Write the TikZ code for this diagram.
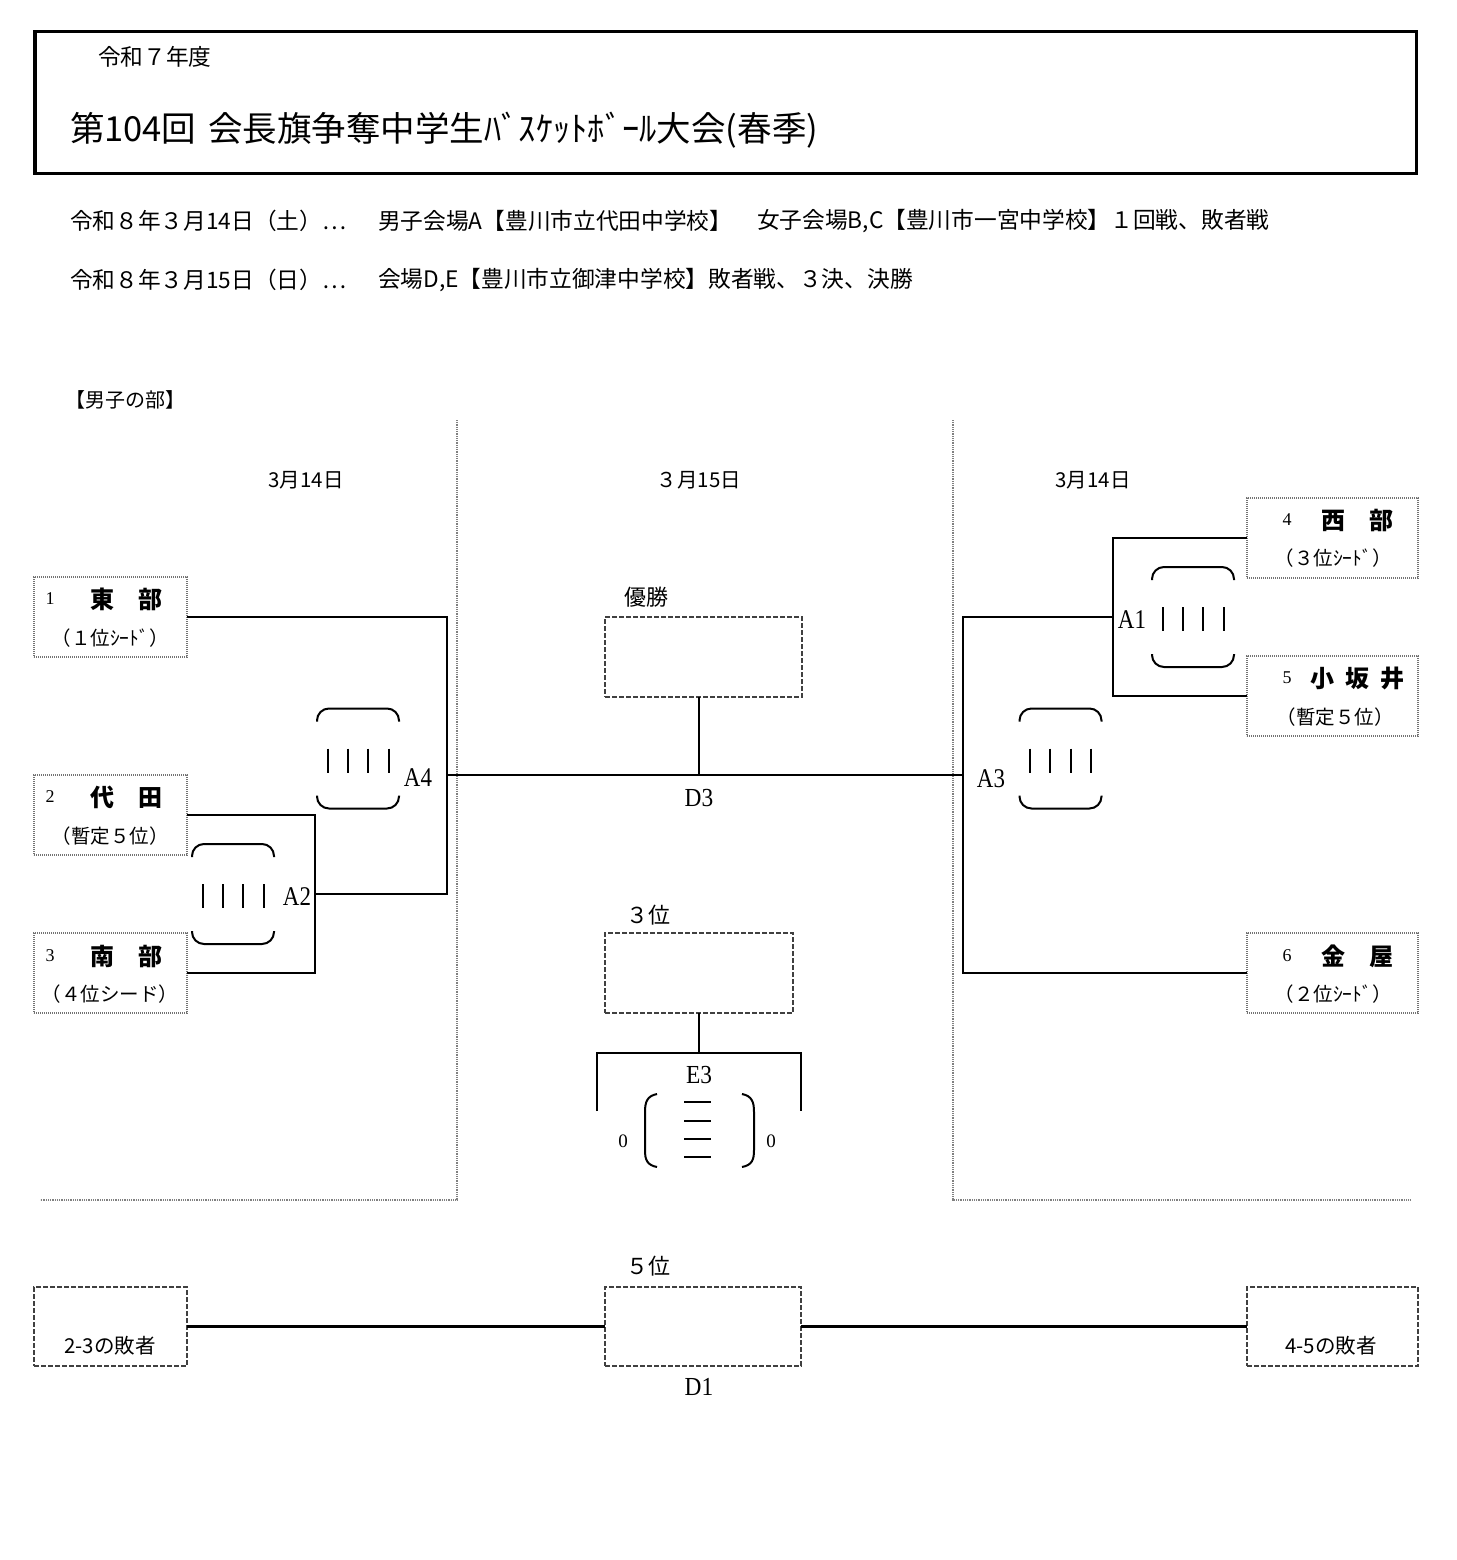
\documentclass[tikz,border=0pt]{standalone}
\usepackage{fontspec}
\setmainfont{Noto Sans CJK JP}
\newfontfamily\latf{Liberation Serif}
\begin{document}
\begin{tikzpicture}[x=1pt,y=-1pt,
  every node/.style={inner sep=0pt, outer sep=0pt},
  conn/.style={line width=2pt},
  bline/.style={line width=2pt},
  teambox/.style={draw=black!55, dash pattern=on 1.2pt off 0.8pt, line width=1.8pt, minimum height=80pt},
  mbox/.style={draw=black!75, dash pattern=on 5pt off 2pt, line width=1.8pt},
  sep/.style={draw=black!50, dash pattern=on 1pt off 0.8pt, line width=1.4pt},
  jt/.style={font=\fontsize{22.7}{27}\selectfont},
  jm/.style={font=\fontsize{19.5}{23}\selectfont},
  jd/.style={font=\fontsize{20.5}{24}\selectfont},
  tname/.style={font=\fontsize{24}{28}\selectfont\bfseries},
  num/.style={font=\latf\fontsize{18}{21}\selectfont},
  alab/.style={font=\latf\fontsize{27}{30}\selectfont, xscale=0.85},
  dlab/.style={font=\latf\fontsize{26}{29}\selectfont, xscale=0.9},
  tally/.pic={
    \draw[bline, rounded corners=12pt] (-41,-37) -- (-41,-50) -- (41,-50) -- (41,-37);
    \draw[bline, rounded corners=12pt] (-41,37) -- (-41,50) -- (41,50) -- (41,37);
    \foreach \u in {-30.5,-10.2,10.2,30.5} \draw[line width=2pt] (\u,-10) -- (\u,14);
  }
]
\useasboundingbox (0,0) rectangle (1456,1560);

% title frame
\node[draw, line width=3.5pt, minimum width=1381.5pt, minimum height=142pt] (frame) at (725.75,102.5) {};
\node[jt, anchor=west] (year) at (98,57) {令和７年度};
\node[font=\fontsize{34.5}{40}\selectfont, anchor=west] (title) at (70,130) {第104回\hspace{12pt}会長旗争奪中学生ﾊﾞｽｹｯﾄﾎﾞｰﾙ大会(春季)};

% schedule lines
\node[jt, anchor=west] (l1a) at (70,221) {令和８年３月14日（土）…};
\node[jt, anchor=west] (l1b) at (378,221) {男子会場A【豊川市立代田中学校】};
\node[jt, anchor=west] (l1c) at (757,221) {女子会場B,C【豊川市一宮中学校】１回戦、敗者戦};
\node[jt, anchor=west] (l2a) at (70,280) {令和８年３月15日（日）…};
\node[jt, anchor=west] (l2b) at (378,280) {会場D,E【豊川市立御津中学校】敗者戦、３決、決勝};

\node[font=\fontsize{20}{24}\selectfont, anchor=west] (sec) at (65,400) {【男子の部】};

% separators
\draw[sep] (457,420) -- (457,1200) -- (40,1200);
\draw[sep] (953,420) -- (953,1200) -- (1410,1200);

% dates
\node[jd] (dt1) at (306,480) {3月14日};
\node[jd] (dt2) at (699,480) {３月15日};
\node[jd] (dt3) at (1093,480) {3月14日};

% team boxes
\node[teambox, minimum width=153pt] (b1) at (110.5,617) {};
\node[teambox, minimum width=153pt] (b2) at (110.5,815) {};
\node[teambox, minimum width=153pt] (b3) at (110.5,973) {};
\node[teambox, minimum width=171pt] (b4) at (1332.5,538) {};
\node[teambox, minimum width=171pt] (b5) at (1332.5,696) {};
\node[teambox, minimum width=171pt] (b6) at (1332.5,973) {};

\node[num] (n1) at (50,599) {1};
\node[tname] (t1) at (126,599) {東　部};
\node[jm] (s1) at (110,638) {（１位ｼｰﾄﾞ）};
\node[num] (n2) at (50,797) {2};
\node[tname] (t2) at (126,797) {代　田};
\node[jm] (s2) at (110,836) {（暫定５位）};
\node[num] (n3) at (50,956) {3};
\node[tname] (t3) at (126,956) {南　部};
\node[jm] (s3) at (110,994) {（４位シード）};
\node[num] (n4) at (1287,520) {4};
\node[tname] (t4) at (1357.5,520) {西　部};
\node[jm] (s4) at (1333,558) {（３位ｼｰﾄﾞ）};
\node[num] (n5) at (1287,678) {5};
\node[tname] (t5) at (1357.5,678) {小\hspace{11pt}坂\hspace{11pt}井};
\node[jm] (s5) at (1335,717) {（暫定５位）};
\node[num] (n6) at (1287,956) {6};
\node[tname] (t6) at (1357.5,956) {金　屋};
\node[jm] (s6) at (1333,994) {（２位ｼｰﾄﾞ）};

% centre boxes
\node[mbox, minimum width=197pt, minimum height=80pt] (win) at (703.5,657) {};
\node[mbox, minimum width=188pt, minimum height=80pt] (third) at (699,973) {};
\node[mbox, minimum width=196pt, minimum height=79pt] (fifth) at (703,1326.5) {};
\node[mbox, minimum width=153pt, minimum height=79pt] (los1) at (110.5,1326.5) {};
\node[mbox, minimum width=171pt, minimum height=79pt] (los2) at (1332.5,1326.5) {};

\node[font=\fontsize{22}{26}\selectfont] (lwin) at (646,597) {優勝};
\node[font=\fontsize{22}{26}\selectfont] (l3) at (648,915) {３位};
\node[font=\fontsize{22}{26}\selectfont] (l5) at (648,1266) {５位};
\node[font=\fontsize{20.5}{24}\selectfont] (lt1) at (110,1346) {2-3の敗者};
\node[font=\fontsize{20.5}{24}\selectfont] (lt2) at (1331,1346) {4-5の敗者};

% junctions
\coordinate (a4) at (447,775);
\coordinate (a2) at (315,894);
\coordinate (a3) at (963,775);
\coordinate (a1) at (1113,617);
\coordinate (d3) at (699,775);
\coordinate (e3) at (699,1053);
\coordinate (e3L) at (597,1111);
\coordinate (e3R) at (801,1111);

% connectors
\draw[conn] (b1.east) -| (a4) |- (a2);
\draw[conn] (b2.east) -| (a2) |- (b3.east);
\draw[conn] (a4) -- (a3);
\draw[conn] (b6.west) -| (a3) |- (a1);
\draw[conn] (b4.west) -| (a1) |- (b5.west);
\draw[conn] (win.south -| d3) -- (d3);
\draw[conn] (third.south -| e3) -- (e3);
\draw[conn] (e3L) |- (e3) -| (e3R);
\draw[conn, line width=2.6pt] (los1.east) -- (fifth.west);
\draw[conn, line width=2.6pt] (fifth.east) -- (los2.west);

% game labels
\node[alab] (A4) at (418,778) {A4};
\node[alab] (A2) at (297,897) {A2};
\node[alab] (A1) at (1132,620) {A1};
\node[alab] (A3) at (991,779) {A3};
\node[dlab] (D3) at (699,798) {D3};
\node[dlab] (E3) at (699,1075) {E3};
\node[dlab] (D1) at (699,1387) {D1};

% score tallies
\pic at (358,758.5) {tally};
\pic at (233,894) {tally};
\pic at (1193,617) {tally};
\pic at (1060.5,758.5) {tally};

% E3 score
\draw[bline] (657,1094) .. controls (647,1096) and (645,1102) .. (645,1112) -- (645,1150) .. controls (645,1160) and (647,1165) .. (657,1167);
\draw[bline] (742,1094) .. controls (752,1096) and (754,1102) .. (754,1112) -- (754,1150) .. controls (754,1160) and (752,1165) .. (742,1167);
\foreach \v in {1102,1121,1139,1157} \draw[line width=2pt] (684,\v) -- (711,\v);
\node[font=\latf\fontsize{19}{22}\selectfont] (z1) at (623,1141) {0};
\node[font=\latf\fontsize{19}{22}\selectfont] (z2) at (771,1141) {0};
\end{tikzpicture}
\end{document}
